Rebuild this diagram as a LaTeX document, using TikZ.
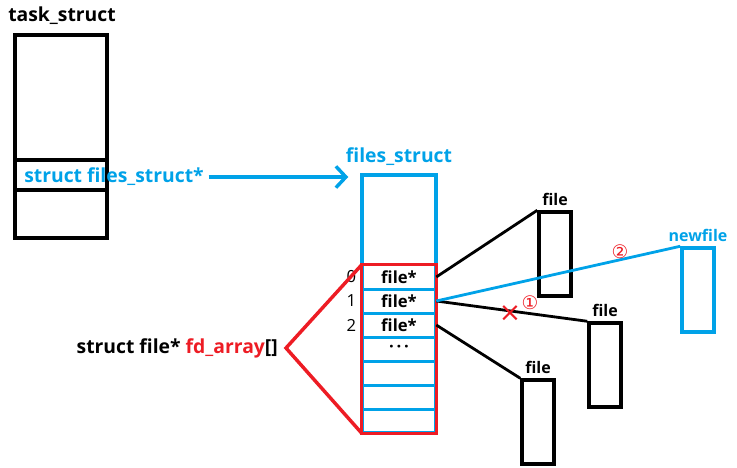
\documentclass[tikz,border=0pt]{standalone}
\usepackage{fontspec}
\setmainfont{Open Sans}
\newfontfamily\marksfont{DejaVu Sans}
\usetikzlibrary{arrows.meta}
\definecolor{paintblue}{RGB}{0,162,232}
\definecolor{paintred}{RGB}{237,28,36}
\tikzset{
  box/.style={draw=black,line width=2.6pt,inner sep=0pt},
  filebox/.style={box,minimum width=24pt,minimum height=63pt},
  slot/.style={minimum width=55.5pt,minimum height=18pt,inner sep=0pt,font=\bfseries\fontsize{12.5}{14}\selectfont},
  title/.style={font=\bfseries\fontsize{14.5}{17}\selectfont,inner sep=0pt},
  small/.style={font=\bfseries\fontsize{12}{14}\selectfont,inner sep=0pt},
  idx/.style={font=\fontsize{12.5}{14}\selectfont,inner sep=0pt,anchor=east},
  wire/.style={line width=2.1pt},
  blueline/.style={draw=paintblue,line width=2.6pt},
  redline/.style={draw=paintred,line width=2.6pt},
  redmark/.style={text=paintred,inner sep=0pt,font=\marksfont\fontsize{14}{14}\selectfont},
}
\begin{document}
\begin{tikzpicture}[x=0.75pt,y=-0.75pt]
\useasboundingbox (0,0) rectangle (737,467);
% task_struct
\node[title] (taskname) at (62,16) {task\_struct};
\node[box,minimum width=69pt,minimum height=152.25pt] (task) at (61,136.5) {};
\draw[box] (task.west |- 0,160) -- (task.east |- 0,160);
\draw[box] (task.west |- 0,190) -- (task.east |- 0,190);
\node[title,text=paintblue] (fsptr) at (114,177) {struct files\_struct*};
% files_struct
\node[title,text=paintblue] (fsname) at (399,157) {files\_struct};
\node[blueline,minimum width=55.5pt,minimum height=193.5pt,inner sep=0pt] (fsbox) at (399,304) {};
\draw[blueline,-{Straight Barb[length=7.5pt,width=16pt]},shorten <=3.5pt,shorten >=9pt] (fsptr.east) -- (fsptr.east -| fsbox.west);
% fd_array
\foreach \i/\t in {0/file*,1/file*,2/file*,3/{·\,·\,·},4/{},5/{},6/{}}
  \node[slot] (row\i) at (399,{277+24*\i}) {\t};
\foreach \i in {0,...,5}
  \draw[blueline] (row\i.south west) -- (row\i.south east);
\draw[redline] (row0.north west) rectangle (row6.south east);
\foreach \i in {0,1,2}
  \node[idx] (num\i) at ([xshift=-4pt]row\i.west) {\i};
\coordinate (tip) at (286,348);
\draw[redline] (row0.north west) -- (tip) -- (row6.south west);
\node[title,anchor=east] (fdname) at (278,348) {struct file* \textcolor{paintred}{fd\_array}[]};
% files
\node[filebox,label={[small,label distance=3pt]above:file}] (file1) at (555,254) {};
\node[filebox,label={[small,label distance=3pt]above:file}] (file2) at (605,365) {};
\node[filebox,label={[small,label distance=3pt]above:file}] (file3) at (538,422) {};
\node[filebox,draw=paintblue,label={[small,text=paintblue,label distance=3pt]above:newfile}] (newfile) at (698,290) {};
\draw[wire] (row0.east) -- (file1.north west);
\draw[wire] (row1.east) -- (file2.north west);
\draw[wire] (row2.east) -- (file3.north west);
\draw[wire,paintblue] (row1.east) -- (newfile.north west);
% marks
\node[redmark,font=\marksfont\fontsize{20}{20}\selectfont] (cross) at (510,314) {×};
\node[redmark] (one) at (530,303) {①};
\node[redmark] (two) at (620,252) {②};
\end{tikzpicture}
\end{document}
